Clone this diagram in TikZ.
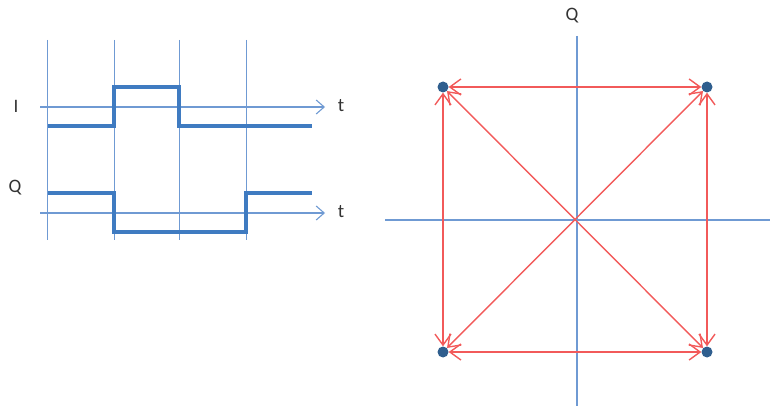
\documentclass[tikz,border=0pt]{standalone}
\usepackage{fontspec}
\setmainfont{Carlito}
\usetikzlibrary{arrows.meta}
\definecolor{axisblue}{HTML}{6F9AD3}
\definecolor{sigblue}{HTML}{3F7BC1}
\definecolor{dotblue}{HTML}{2F5E8E}
\definecolor{arrred}{HTML}{F25A5A}
\tikzset{
  axis/.style={draw=axisblue, line width=1.1pt},
  axisarrow/.style={axis, -{Straight Barb[length=8pt,width=14pt,line width=1.1pt]}},
  grid line/.style={draw=axisblue, line width=1pt},
  signal/.style={draw=sigblue, line width=3.8pt},
  lbl/.style={font=\fontsize{19}{22}\selectfont, text=black!80, inner sep=0pt},
  dot/.style={circle, fill=dotblue, minimum size=11pt, inner sep=0pt},
  redarrow/.style={draw=arrred, line width=1.4pt, {Straight Barb[length=11pt,width=16pt,line width=1.4pt]}-{Straight Barb[length=11pt,width=16pt,line width=1.4pt]}}
}
\begin{document}
\begin{tikzpicture}[x=1pt,y=-1pt]
\useasboundingbox (0,0) rectangle (781,406);
% left: time diagram
\foreach \x/\n in {47/g1,114/g2,179/g3,246/g4}{
  \coordinate (\n t) at (\x,40);
  \coordinate (\n b) at (\x,240);
  \draw[grid line] (\n t) -- (\n b);
}
\coordinate (ia0) at (40,107);
\coordinate (ia1) at (325,107);
\coordinate (qa0) at (40,213);
\coordinate (qa1) at (325,213);
\draw[axisarrow] (ia0) -- (ia1);
\draw[axisarrow] (qa0) -- (qa1);
\node[lbl] (tI) at (341,106) {t};
\node[lbl] (tQ) at (341,212) {t};
\node[lbl] (lI) at (16,106) {I};
\node[lbl] (lQ) at (15,188) {Q};
\draw[signal] (48,126) -- (114,126) -- (114,87) -- (179,87) -- (179,126) -- (312,126);
\draw[signal] (48,193) -- (114,193) -- (114,232) -- (246,232) -- (246,193) -- (312,193);
% right: constellation
\coordinate (h0) at (385,220);
\coordinate (h1) at (770,220);
\coordinate (v0) at (577,36);
\coordinate (v1) at (577,406);
\draw[axis] (h0) -- (h1);
\draw[axis] (v0) -- (v1);
\node[lbl] (lQ2) at (572,16) {Q};
\node[dot] (a) at (443,87) {};
\node[dot] (b) at (707,87) {};
\node[dot] (c) at (443,352) {};
\node[dot] (d) at (707,352) {};
\draw[redarrow] (a) -- (b);
\draw[redarrow] (c) -- (d);
\draw[redarrow] (a) -- (c);
\draw[redarrow] (b) -- (d);
\draw[redarrow] (a) -- (d);
\draw[redarrow] (b) -- (c);
\end{tikzpicture}
\end{document}
